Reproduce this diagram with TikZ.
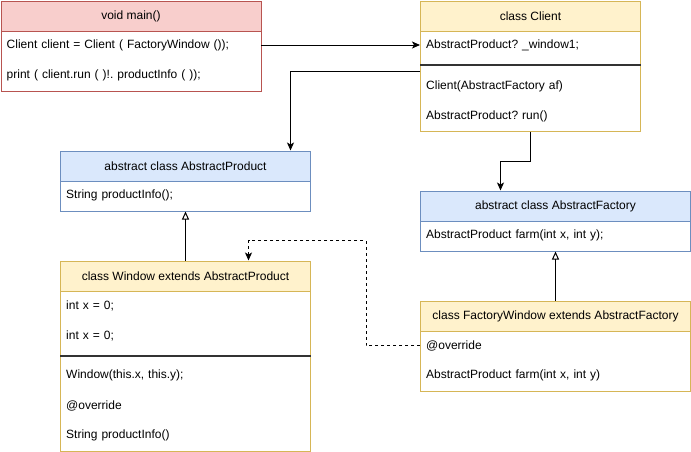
\documentclass[tikz,border=0pt]{standalone}
\usepackage{fontspec}
\setmainfont{Liberation Sans}
\usetikzlibrary{arrows.meta}
\definecolor{redF}{HTML}{F8CECC}
\definecolor{redS}{HTML}{B85450}
\definecolor{yelF}{HTML}{FFF2CC}
\definecolor{yelS}{HTML}{D6B656}
\definecolor{bluF}{HTML}{DAE8FC}
\definecolor{bluS}{HTML}{6C8EBF}
\definecolor{sepC}{HTML}{333333}
\frenchspacing
\begin{document}
\begin{tikzpicture}[x=1pt,y=-1pt,
  font=\fontsize{12}{14}\selectfont\frenchspacing,
  classbox/.style={draw=#1, fill=white, line width=1pt, inner sep=0pt, anchor=north west},
  hdr/.style 2 args={draw=#1, fill=#2, line width=1pt, minimum height=30pt, inner sep=0pt, anchor=north west},
  row/.style={text width=#1-12pt, align=left, inner xsep=6pt, inner ysep=0pt, minimum height=30pt, anchor=west},
  sep/.style={draw=sepC, line width=2pt},
  arr/.style={-{Stealth[length=8pt,width=7pt,inset=2pt]}, line width=1pt},
  inh/.style={-{Triangle[open,length=8pt,width=7pt]}, line width=1pt},
  dep/.style={-{Stealth[length=8pt,width=7pt,inset=2pt]}, line width=1pt, dash pattern=on 3pt off 3pt}]
\useasboundingbox (0,0) rectangle (691,451);

% void main()
\node[classbox=redS, minimum width=260pt, minimum height=90pt] (main) at (0.5,0.5) {};
\node[hdr={redS}{redF}, minimum width=260pt] (mainh) at (0.5,0.5) {void main()};
\node[row=260pt] (mainr1) at (0.5,45) {Client client = Client ( FactoryWindow ());};
\node[row=260pt] (mainr2) at (0.5,75) {print ( client.run ( )!. productInfo ( ));};

% class Client
\node[classbox=yelS, minimum width=220pt, minimum height=130pt] (client) at (420,0.5) {};
\node[hdr={yelS}{yelF}, minimum width=220pt] (clienth) at (420,0.5) {class Client};
\node[row=220pt] (clientr1) at (420,45) {AbstractProduct? \_window1;};
\draw[sep] (client.west |- 0,65) -- (client.east |- 0,65);
\node[row=220pt] (clientr2) at (420,86) {Client(AbstractFactory af)};
\node[row=220pt] (clientr3) at (420,116) {AbstractProduct? run()};

% abstract class AbstractProduct
\node[classbox=bluS, minimum width=250pt, minimum height=60pt] (aprod) at (60,150.5) {};
\node[hdr={bluS}{bluF}, minimum width=250pt] (aprodh) at (60,150.5) {abstract class AbstractProduct};
\node[row=250pt] (aprodr1) at (60,195.5) {String productInfo();};

% abstract class AbstractFactory
\node[classbox=bluS, minimum width=270pt, minimum height=60pt] (afact) at (420,190.5) {};
\node[hdr={bluS}{bluF}, minimum width=270pt] (afacth) at (420,190.5) {abstract class AbstractFactory};
\node[row=270pt] (afactr1) at (420,235.5) {AbstractProduct farm(int x, int y);};

% class Window
\node[classbox=yelS, minimum width=250pt, minimum height=190pt] (window) at (60,260.5) {};
\node[hdr={yelS}{yelF}, minimum width=250pt] (windowh) at (60,260.5) {class Window extends AbstractProduct};
\node[row=250pt] (windowr1) at (60,305.5) {int x = 0;};
\node[row=250pt] (windowr2) at (60,335.5) {int x = 0;};
\draw[sep] (window.west |- 0,355.5) -- (window.east |- 0,355.5);
\node[row=250pt] (windowr3) at (60,375.5) {Window(this.x, this.y);};
\node[row=250pt] (windowr4) at (60,405.5) {@override};
\node[row=250pt] (windowr5) at (60,435.5) {String productInfo()};

% class FactoryWindow
\node[classbox=yelS, minimum width=270pt, minimum height=90pt] (fwin) at (420,300.5) {};
\node[hdr={yelS}{yelF}, minimum width=270pt] (fwinh) at (420,300.5) {class FactoryWindow extends AbstractFactory};
\node[row=270pt] (fwinr1) at (420,345.5) {@override};
\node[row=270pt] (fwinr2) at (420,375.5) {AbstractProduct farm(int x, int y)};

% connectors
\draw[arr] (mainr1.east) -- (clientr1.west);
\draw[arr] ([yshift=-5pt]client.west) -| ([xshift=105pt]aprod.north);
\draw[arr] (client.south) -- ++(0,30) -| ([xshift=-55pt]afact.north);
\draw[inh] (window.north) -- (aprod.south);
\draw[inh] (fwin.north) -- (afact.south);
\draw[dep] (fwinr1.west) -- ++(-54,0) -- ++(0,-105) -| ([xshift=63pt]window.north);
\end{tikzpicture}
\end{document}
